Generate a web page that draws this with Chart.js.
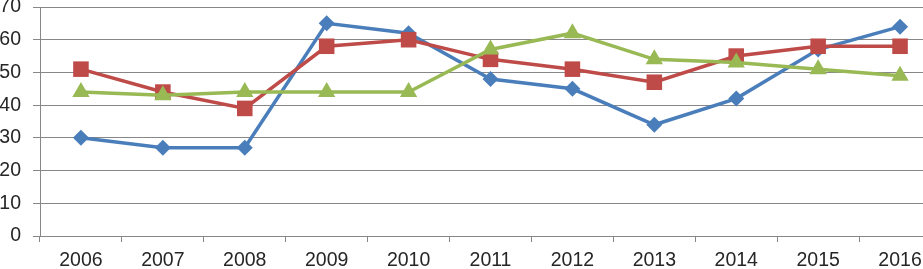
<!DOCTYPE html>
<html>
<head>
<meta charset="utf-8">
<script src="https://cdn.jsdelivr.net/npm/chart.js@4/dist/chart.umd.min.js"></script>
<style>
html, body { margin: 0; padding: 0; overflow: hidden; background: #fff; }
#wrap { width: 941px; height: 269px; }
</style>
</head>
<body>
<div id="wrap"><canvas id="c" width="941" height="269"></canvas></div>
<script>
const categories = ['2006','2007','2008','2009','2010','2011','2012','2013','2014','2015','2016'];
const blueValues  = [30, 27, 27, 65, 62, 48, 45, 34, 42, 57, 64];
const redValues   = [51, 44, 39, 58, 60, 54, 51, 47, 55, 58, 58];
const greenValues = [44, 43, 44, 44, 44, 57, 62, 54, 53, 51, 49];
const yTicks = [0, 10, 20, 30, 40, 50, 60, 70];

const gridColor = '#878787';
const textColor = '#262626';

new Chart(document.getElementById('c'), {
  type: 'line',
  data: {
    labels: categories,
    datasets: [
      { data: blueValues, borderColor: '#4A7EBB', backgroundColor: '#4A7EBB', borderWidth: 3.5,
        pointStyle: 'rectRot', pointRadius: 8, pointBorderWidth: 0, order: 3 },
      { data: redValues, borderColor: '#BE4B48', backgroundColor: '#BE4B48', borderWidth: 3.5,
        pointStyle: 'rect', pointRadius: 11, pointBorderWidth: 0, order: 2 },
      { data: greenValues, borderColor: '#98B954', backgroundColor: '#98B954', borderWidth: 3.5,
        pointStyle: 'triangle', pointRadius: 10, pointBorderWidth: 0, order: 1 }
    ]
  },
  options: {
    responsive: false,
    animation: false,
    layout: { padding: 0, autoPadding: false },
    plugins: { legend: { display: false }, tooltip: { enabled: false } },
    scales: {
      x: {
        offset: true,
        grid: { offset: true, drawOnChartArea: false, drawTicks: true, tickLength: 6, color: gridColor },
        border: { display: true, color: gridColor, width: 1 },
        ticks: { color: textColor, font: { family: 'Liberation Sans', size: 19.5 }, padding: 7, maxRotation: 0 },
        afterFit: s => { s.height = 33; s.paddingLeft = 0; s.paddingRight = 0; }
      },
      y: {
        min: 0, max: 70,
        afterBuildTicks: s => { s.ticks = yTicks.map(v => ({ value: v })); },
        grid: { color: gridColor, tickLength: 7, drawTicks: true },
        border: { display: true, color: gridColor, width: 1 },
        ticks: { color: textColor, font: { family: 'Liberation Sans', size: 19.5 }, padding: 12 },
        afterFit: s => { s.width = 40; s.paddingTop = 7; s.paddingBottom = 0; }
      }
    }
  }
});
</script>
</body>
</html>
